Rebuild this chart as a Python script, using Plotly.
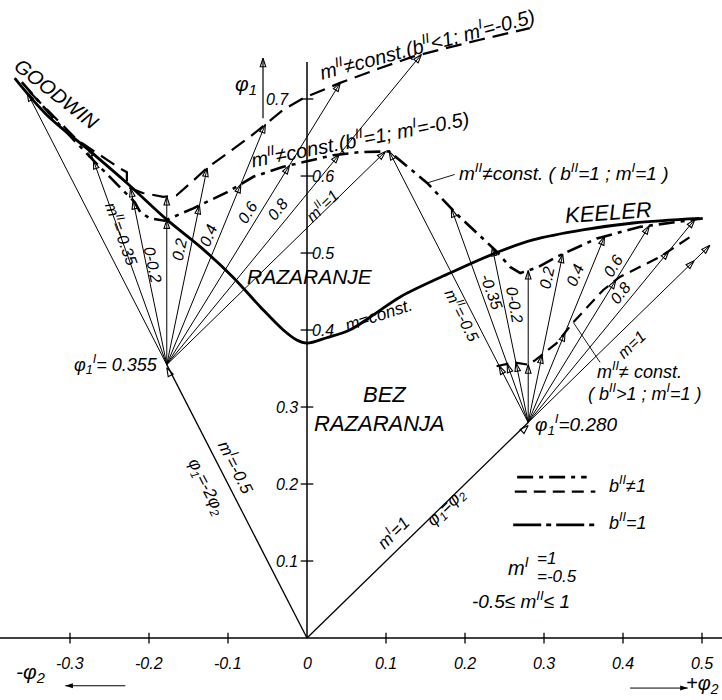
import numpy as np
import plotly.graph_objects as go

W, H = 722, 700
X_RANGE = [-0.3886, 0.5253]
Y_RANGE = [-0.0805, 0.8286]
PX_X = W / (X_RANGE[1] - X_RANGE[0])
PX_Y = H / (Y_RANGE[1] - Y_RANGE[0])

# ---------------- axes ----------------
x_tick_values = [-0.3, -0.2, -0.1, 0.1, 0.2, 0.3, 0.4, 0.5]
x_tick_labels = ["-0.3", "-0.2", "-0.1", "0.1", "0.2", "0.3", "0.4", "0.5"]
y_tick_values = [0.1, 0.2, 0.3, 0.4, 0.5, 0.6, 0.7]
y_tick_labels = ["0.1", "0.2", "0.3", "0.4", "0.5", "0.6", "0.7"]
y_axis_top = 0.748

# ---------------- boundary curves (phi2, phi1) ----------------
# m = const. (GOODWIN ... KEELER)
goodwin_keeler_phi2 = [-0.370, -0.330, -0.272, -0.228, -0.177, -0.135, -0.094, -0.059,
                       -0.030, -0.013, 0.000, 0.025, 0.054, 0.086, 0.118, 0.181, 0.241,
                       0.286, 0.349, 0.413, 0.497]
goodwin_keeler_phi1 = [0.727, 0.680, 0.630, 0.591, 0.543, 0.508, 0.469, 0.430,
                       0.400, 0.387, 0.383, 0.390, 0.400, 0.421, 0.443, 0.474, 0.501,
                       0.517, 0.530, 0.539, 0.545]

# m^II != const., b^II < 1, m^I = -0.5
b_lt1_phi2 = [-0.351, -0.291, -0.237, -0.228, -0.228, -0.208, -0.182, -0.165, -0.144,
              -0.127, -0.072, -0.030, -0.005, 0.042, 0.092, 0.134, 0.168, 0.219, 0.282]
b_lt1_phi1 = [0.709, 0.647, 0.610, 0.605, 0.586, 0.578, 0.573, 0.575, 0.594,
              0.610, 0.651, 0.686, 0.701, 0.721, 0.740, 0.755, 0.764, 0.777, 0.792]

# m^II != const., b^II = 1, m^I = -0.5
b_eq1_left_phi2 = [-0.361, -0.313, -0.271, -0.233, -0.218, -0.211, -0.199, -0.180,
                   -0.144, -0.101, -0.068, -0.030, -0.005, 0.033, 0.067, 0.104]
b_eq1_left_phi1 = [0.722, 0.666, 0.621, 0.582, 0.566, 0.553, 0.545, 0.542,
                   0.558, 0.579, 0.599, 0.612, 0.618, 0.627, 0.631, 0.632]

# m^II != const., b^II = 1, m^I = 1
b_eq1_right_phi2 = [0.104, 0.152, 0.191, 0.238, 0.257, 0.270, 0.291, 0.316, 0.367,
                    0.422, 0.478, 0.501]
b_eq1_right_phi1 = [0.632, 0.591, 0.549, 0.504, 0.482, 0.474, 0.481, 0.495, 0.519,
                    0.534, 0.542, 0.545]

# m^II != const., b^II > 1, m^I = 1
b_gt1_phi2 = [0.240, 0.262, 0.280, 0.289, 0.316, 0.337, 0.375, 0.396, 0.447, 0.485]
b_gt1_phi1 = [0.353, 0.358, 0.355, 0.361, 0.383, 0.410, 0.452, 0.469, 0.495, 0.521]

# ---------------- first-stage lines and fans ----------------
m_I_left, phi1_I_left = -0.5, 0.355
m_I_right, phi1_I_right = 1.0, 0.280
fan_m = [-0.5, -0.35, -0.2, 0.0, 0.2, 0.4, 0.6, 0.8, 1.0]
right_m1_end_phi1 = 0.51
right_m1_arrow_phi1 = 0.49

fig = go.Figure()


def add_line(xs, ys, width=1.0, dash="solid", shape="linear"):
    fig.add_trace(go.Scatter(
        x=xs, y=ys, mode="lines",
        line=dict(color="black", width=width, dash=dash, shape=shape),
        hoverinfo="skip", showlegend=False))


def screen_angle(m):
    # clockwise angle from "up" of a line with direction (m, 1) in (phi2, phi1)
    return np.degrees(np.arctan2(m * PX_X, PX_Y))


arrow_x, arrow_y, arrow_a = [], [], []


def add_arrow(x, y, m):
    arrow_x.append(x)
    arrow_y.append(y)
    arrow_a.append(screen_angle(m))


def ray_hits(p0, m, xs, ys):
    x0, y0 = p0
    hits = []
    for i in range(len(xs) - 1):
        ax, ay, bx, by = xs[i], ys[i], xs[i + 1], ys[i + 1]
        A = np.array([[m, -(bx - ax)], [1.0, -(by - ay)]])
        if abs(np.linalg.det(A)) < 1e-12:
            continue
        t, s = np.linalg.solve(A, np.array([ax - x0, ay - y0]))
        if t > 1e-6 and -1e-6 <= s <= 1 + 1e-6:
            hits.append(t)
    return sorted(hits)


# axes
add_line([X_RANGE[0], X_RANGE[1]], [0, 0], 1.3)
add_line([0, 0], [0, y_axis_top], 1.5)
tx, ty = [], []
for v in x_tick_values:
    tx += [v, v, None]
    ty += [-0.007, 0.007, None]
for v in y_tick_values:
    tx += [-0.008, 0.008, None]
    ty += [v, v, None]
add_line(tx, ty, 1.3)

# b^II = 1 curve is one continuous chain through the peak
b_eq1_phi2 = b_eq1_left_phi2 + b_eq1_right_phi2[1:]
b_eq1_phi1 = b_eq1_left_phi1 + b_eq1_right_phi1[1:]

# first-stage lines from the origin
left_p0 = (m_I_left * phi1_I_left, phi1_I_left)
right_p0 = (m_I_right * phi1_I_right, phi1_I_right)
add_line([0, left_p0[0]], [0, left_p0[1]], 1.3)
add_line([0, right_p0[0]], [0, right_p0[1]], 1.3)
add_arrow(left_p0[0], left_p0[1] - 0.004, m_I_left)
add_arrow(right_p0[0], right_p0[1] - 0.004, m_I_right)

# fan from phi1^I = 0.355
fx, fy = [], []
for m in fan_m:
    x0, y0 = left_p0
    if m == -0.5:
        t_end = ray_hits(left_p0, m, goodwin_keeler_phi2, goodwin_keeler_phi1)[0]
    elif m == 1.0:
        t_end = ray_hits(left_p0, m, b_eq1_phi2, b_eq1_phi1)[0]
    else:
        t_mid = ray_hits(left_p0, m, b_eq1_phi2, b_eq1_phi1)[0]
        add_arrow(x0 + m * t_mid, y0 + t_mid, m)
        t_end = ray_hits(left_p0, m, b_lt1_phi2, b_lt1_phi1)[0]
    add_arrow(x0 + m * t_end, y0 + t_end, m)
    fx += [x0, x0 + m * t_end, None]
    fy += [y0, y0 + t_end, None]

# fan from phi1^I = 0.280
for m in fan_m:
    x0, y0 = right_p0
    if m == 1.0:
        t_end = right_m1_end_phi1 - y0
        t_mid = right_m1_arrow_phi1 - y0
    else:
        t_mid = ray_hits(right_p0, m, b_gt1_phi2, b_gt1_phi1)[0]
        t_end = ray_hits(right_p0, m, b_eq1_phi2, b_eq1_phi1)[0]
    add_arrow(x0 + m * t_mid, y0 + t_mid, m)
    add_arrow(x0 + m * t_end, y0 + t_end, m)
    fx += [x0, x0 + m * t_end, None]
    fy += [y0, y0 + t_end, None]
add_line(fx, fy, 1.0)

# boundary curves
add_line(goodwin_keeler_phi2, goodwin_keeler_phi1, 2.8, "solid", "spline")
add_line(b_lt1_phi2, b_lt1_phi1, 2.2, "16px,8px")
add_line(b_eq1_phi2, b_eq1_phi1, 2.6, "16px,6px,4px,6px")
add_line(b_gt1_phi2, b_gt1_phi1, 2.2, "12px,7px")

# leader lines
add_line([0.152, 0.187], [0.591, 0.602], 0.9)
add_line([0.337, 0.371], [0.410, 0.358], 0.9)

# legend samples
add_line([0.266, 0.354], [0.209, 0.209], 2.6, "16px,6px,4px,6px")
add_line([0.263, 0.365], [0.190, 0.190], 2.2, "12px,7px")
add_line([0.261, 0.365], [0.147, 0.147], 2.6, "28px,5px,5px,5px")

# axis direction arrows
add_line([-0.0557, -0.0557], [0.675, 0.753], 1.2)
add_arrow(-0.0557, 0.753, 0.0)
add_line([-0.230, -0.306], [-0.062, -0.062], 1.0)
add_line([0.409, 0.482], [-0.065, -0.065], 1.0)

fig.add_trace(go.Scatter(
    x=arrow_x, y=arrow_y, mode="markers",
    marker=dict(symbol="arrow-open", size=9, angle=arrow_a, color="black",
                line=dict(color="black", width=1.1)),
    hoverinfo="skip", showlegend=False))
fig.add_trace(go.Scatter(
    x=[-0.306, 0.482], y=[-0.062, -0.065], mode="markers",
    marker=dict(symbol="arrow", size=8, angle=[-90, 90], color="black"),
    hoverinfo="skip", showlegend=False))

# ---------------- text ----------------
FONT = "Liberation Sans"


def txt(x, y, s, size=15, angle=0, xanchor="center", yanchor="middle"):
    fig.add_annotation(x=x, y=y, text=s, showarrow=False,
                       textangle=angle, xanchor=xanchor, yanchor=yanchor,
                       font=dict(family=FONT, size=size, color="black",
                                 style="italic"))


for v, s in zip(x_tick_values, x_tick_labels):
    txt(v, -0.0325, s, 16)
txt(0, -0.0325, "0", 16)
for v, s in zip(y_tick_values, y_tick_labels):
    if v in (0.4, 0.5, 0.6):
        txt(0.004, v, s, 16, xanchor="left")
    else:
        txt(-0.009 if v < 0.7 else -0.02, v, s, 16, xanchor="right")

txt(-0.077, 0.718, "φ<sub>1</sub>", 21)
txt(-0.350, -0.045, "-φ<sub>2</sub>", 21)
txt(0.5245, -0.060, "+φ<sub>2</sub>", 20, xanchor="right")

txt(-0.317, 0.706, "GOODWIN", 20, 38)
txt(0.381, 0.552, "KEELER", 22, -4)
txt(0.004, 0.470, "RAZARANJE", 21)
txt(0.090, 0.419, "m=const.", 17, -18)
txt(0.099, 0.316, "BEZ", 22)
txt(0.092, 0.279, "RAZARANJA", 22)

txt(-0.186, 0.355, "φ<sub>1</sub><sup>I</sup>= 0.355", 18, xanchor="right")
txt(0.286, 0.277, "φ<sub>1</sub><sup>I</sup>=0.280", 19, xanchor="left")
txt(-0.089, 0.222, "m<sup>I</sup>=-0.5", 17, 63)
txt(-0.129, 0.196, "φ<sub>1</sub>=-2φ<sub>2</sub>", 17, 63)
txt(0.108, 0.138, "m<sup>I</sup>=1", 17, -45)
txt(0.177, 0.169, "φ<sub>1</sub>=φ<sub>2</sub>", 17, -45)

txt(0.152, 0.773, "m<sup>II</sup>≠const.(b<sup>II</sup>&lt;1; m<sup>I</sup>=-0.5)", 20, -15)
txt(0.067, 0.650, "m<sup>II</sup>≠const.(b<sup>II</sup>=1; m<sup>I</sup>=-0.5)", 20, -11)
txt(0.190, 0.605, "m<sup>II</sup>≠const. ( b<sup>II</sup>=1 ; m<sup>I</sup>=1 )", 19,
    xanchor="left")
txt(0.365, 0.348, "m<sup>II</sup>≠ const.", 18, xanchor="left")
txt(0.353, 0.319, "( b<sup>II</sup>>1 ; m<sup>I</sup>=1 )", 18, xanchor="left")

# fan labels
txt(-0.234, 0.526, "m<sup>II</sup>=-0.35", 16, 70)
txt(-0.195, 0.484, "0-0.2", 16, 78)
txt(-0.161, 0.504, "0.2", 16, -78)
txt(-0.125, 0.523, "0.4", 16, -68)
txt(-0.075, 0.552, "0.6", 16, -58)
txt(-0.037, 0.556, "0.8", 16, -51)
txt(0.019, 0.562, "m<sup>II</sup>=1", 16, -44)
txt(0.197, 0.419, "m<sup>II</sup>=-0.5", 16, 63)
txt(0.234, 0.449, "-0.35", 16, 70)
txt(0.263, 0.432, "0-0.2", 16, 80)
txt(0.304, 0.468, "0.2", 16, -78)
txt(0.339, 0.471, "0.4", 16, -68)
txt(0.387, 0.483, "0.6", 16, -58)
txt(0.396, 0.448, "0.8", 16, -51)
txt(0.411, 0.381, "m=1", 16, -44)

# legend text
txt(0.380, 0.199, "b<sup>II</sup>≠1", 18, xanchor="left")
txt(0.380, 0.151, "b<sup>II</sup>=1", 18, xanchor="left")
txt(0.268, 0.093, "m<sup>I</sup>", 20)
txt(0.289, 0.103, "=1", 17, xanchor="left")
txt(0.289, 0.080, "=-0.5", 17, xanchor="left")
txt(0.271, 0.049, "-0.5≤ m<sup>II</sup>≤ 1", 19)

fig.update_layout(
    width=W, height=H, margin=dict(l=0, r=0, t=0, b=0),
    paper_bgcolor="white", plot_bgcolor="white", showlegend=False,
    xaxis=dict(range=X_RANGE, visible=False, fixedrange=True),
    yaxis=dict(range=Y_RANGE, visible=False, fixedrange=True),
)
fig.write_html("out.html")
